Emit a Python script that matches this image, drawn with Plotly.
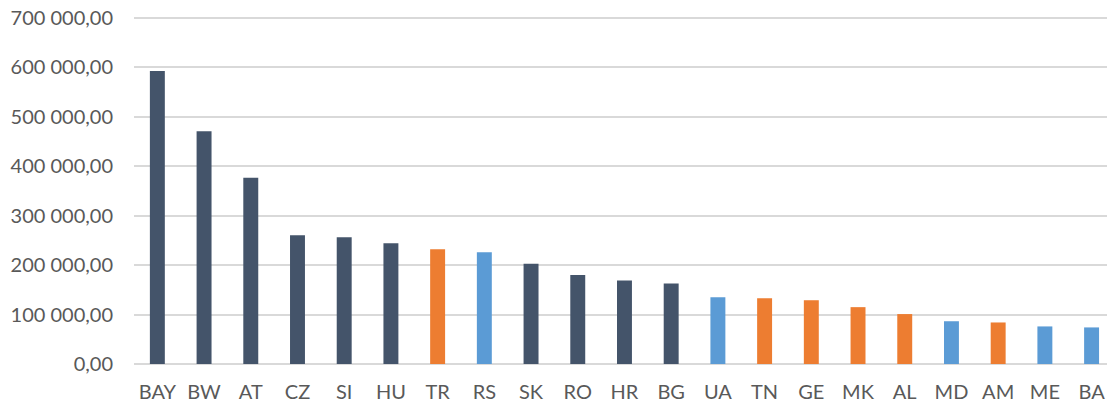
import plotly.graph_objects as go

countries = ["BAY", "BW", "AT", "CZ", "SI", "HU", "TR", "RS", "SK", "RO", "HR",
             "BG", "UA", "TN", "GE", "MK", "AL", "MD", "AM", "ME", "BA"]
values = [592500, 471000, 376500, 260500, 256500, 244000, 232000, 226000, 203000,
          180000, 169000, 163000, 135000, 133000, 129000, 115000, 101000, 86500,
          84000, 76000, 74000]
groups = ["d", "d", "d", "d", "d", "d", "o", "b", "d", "d", "d",
          "d", "b", "o", "o", "o", "o", "b", "o", "b", "b"]

GROUP_COLORS = {"d": "#44546A", "o": "#ED7D31", "b": "#5B9BD5"}
y_ticks = [0, 100000, 200000, 300000, 400000, 500000, 600000, 700000]

fig = go.Figure(go.Bar(
    x=countries,
    y=values,
    marker_color=[GROUP_COLORS[g] for g in groups],
    marker_line_width=0,
))

fig.update_layout(
    width=1107,
    height=403,
    margin=dict(l=134, r=0, t=13, b=39, autoexpand=False),
    plot_bgcolor="white",
    paper_bgcolor="white",
    font=dict(family="Lato, Open Sans, sans-serif", size=20, color="#595959"),
    separators=", ",
    bargap=0.68,
    showlegend=False,
    xaxis=dict(
        range=[-0.5, 20.33],
        automargin=False,
        showgrid=False,
        showline=False,
        ticks="",
        ticklabelstandoff=14,
    ),
    yaxis=dict(
        range=[0, 710000],
        automargin=False,
        tickvals=y_ticks,
        tickformat=",.2f",
        gridcolor="#D9D9D9",
        gridwidth=1.5,
        zeroline=True,
        zerolinecolor="#D9D9D9",
        zerolinewidth=1.5,
        ticks="",
        ticklabelstandoff=20,
    ),
)

# page body has a default 8px margin; drop it so the chart fills the window
fig.write_html("out.html", config={"displayModeBar": False},
               post_script="document.body.style.margin='0';")
